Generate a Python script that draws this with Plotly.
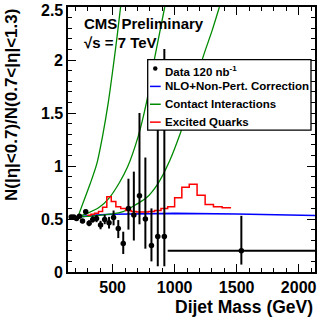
import numpy as np
import plotly.graph_objects as go

# ---------------- data ----------------
bin_edges = [156, 176, 197, 220, 244, 270, 296, 325, 354, 386, 419, 453, 489,
             526, 565, 606, 649, 693, 740, 788, 838, 890, 944, 2132]
ratio = [0.52, 0.52, 0.505, 0.527, 0.48, 0.568, 0.46, 0.496, 0.505, 0.443,
         0.496, 0.465, 0.515, 0.41, 0.27, 0.60, 0.537, 0.72, 0.50, 0.25,
         0.334, 0.334, 0.20]
err_up = [0.01, 0.012, 0.015, 0.017, 0.02, 0.025, 0.028, 0.03, 0.035, 0.04,
          0.045, 0.055, 0.065, 0.08, 0.11, 0.28, 0.41, 0.78, 0.58, 0.35,
          1.67, 1.77, 0.33]
err_down = [0.01, 0.012, 0.015, 0.017, 0.02, 0.025, 0.028, 0.03, 0.035, 0.04,
            0.045, 0.055, 0.075, 0.09, 0.10, 0.20, 0.24, 0.27, 0.28, 0.15,
            0.28, 0.28, 0.13]

nlo_mass = [220, 300, 400, 500, 700, 1000, 1500, 2132]
nlo_ratio = [0.52, 0.53, 0.54, 0.545, 0.55, 0.553, 0.547, 0.533]

ci1_mass = [220, 264, 318, 372, 420, 465, 505, 540, 564]
ci1_ratio = [0.52, 0.66, 0.83, 1.02, 1.29, 1.60, 1.94, 2.26, 2.5]
ci2_mass = [220, 300, 392, 473, 553, 620, 706, 773, 839, 920]
ci2_ratio = [0.52, 0.555, 0.61, 0.70, 0.84, 0.99, 1.28, 1.60, 2.02, 2.5]
ci3_mass = [220, 350, 478, 585, 693, 772, 863, 960, 1043, 1140, 1227, 1300, 1361]
ci3_ratio = [0.52, 0.53, 0.545, 0.57, 0.64, 0.70, 0.83, 1.05, 1.30, 1.64, 2.02, 2.27, 2.5]

qstar_edges = [296, 325, 354, 386, 419, 453, 489, 526, 565, 606, 649, 693, 740,
               788, 838, 890, 944, 1000, 1058, 1118, 1181, 1246, 1313, 1383, 1455]
qstar_ratio = [0.535, 0.545, 0.555, 0.57, 0.61, 0.71, 0.665, 0.615, 0.60, 0.58,
               0.57, 0.565, 0.565, 0.57, 0.58, 0.60, 0.615, 0.70, 0.80, 0.827,
               0.724, 0.637, 0.615, 0.606]

x_ticks = [500, 1000, 1500, 2000]
y_ticks = [0, 0.5, 1, 1.5, 2, 2.5]
legend_labels = ["Data 120 nb<sup>-1</sup>", "NLO+Non-Pert. Correction",
                 "Contact Interactions", "Excited Quarks"]

# ---------------- derived ----------------
edges = np.array(bin_edges, dtype=float)
centers = 0.5 * (edges[:-1] + edges[1:])
half = 0.5 * (edges[1:] - edges[:-1])
# only the wide last bin shows a visible horizontal bar
xerr = [h if i == len(half) - 1 else 0 for i, h in enumerate(half)]

FONT = "Liberation Sans, Arial, Helvetica, sans-serif"
GREEN = "#008a00"

def b(s):
    return "<b>" + s + "</b>"

fig = go.Figure()

fig.add_trace(go.Scatter(x=nlo_mass, y=nlo_ratio, mode="lines",
                         line=dict(color="#0000ff", width=1.6), showlegend=False))
for mx, ry in [(ci1_mass, ci1_ratio), (ci2_mass, ci2_ratio), (ci3_mass, ci3_ratio)]:
    fig.add_trace(go.Scatter(x=mx, y=ry, mode="lines", line_shape="spline",
                             line=dict(color=GREEN, width=1.3, smoothing=0.8),
                             showlegend=False))
fig.add_trace(go.Scatter(x=qstar_edges, y=qstar_ratio + [qstar_ratio[-1]],
                         mode="lines", line_shape="hv",
                         line=dict(color="#ff0000", width=1.5), showlegend=False))
fig.add_trace(go.Scatter(
    x=centers, y=ratio, mode="markers",
    marker=dict(color="black", size=5.5),
    error_y=dict(type="data", array=err_up, arrayminus=err_down, symmetric=False,
                 color="black", thickness=2, width=0),
    error_x=dict(type="data", array=xerr, arrayminus=xerr, symmetric=False,
                 color="black", thickness=2, width=0),
    showlegend=False, cliponaxis=True))

# ---------------- layout ----------------
L, R, T, B = 68, 9, 5, 55
W, H = 324, 327
pw, ph = W - L - R, H - T - B

def px(xp):
    return (xp - L) / pw

def py(yp):
    return (H - B - yp) / ph

axis_common = dict(showline=True, linecolor="black", linewidth=2, mirror="allticks",
                   ticks="inside", ticklen=8, tickwidth=1.3, tickcolor="black",
                   showgrid=False, zeroline=False,
                   tickfont=dict(family=FONT, size=16, color="black"))

fig.update_layout(
    width=W, height=H, margin=dict(l=L, r=R, t=T, b=B),
    paper_bgcolor="white", plot_bgcolor="white",
    xaxis=dict(range=[140, 2132], tickvals=x_ticks,
               ticktext=[b(str(v)) for v in x_ticks],
               minor=dict(dtick=100, tick0=0, ticks="inside", ticklen=4,
                          tickcolor="black", tickwidth=1.1, showgrid=False),
               **axis_common),
    yaxis=dict(range=[0, 2.5], tickvals=y_ticks, showticklabels=False,
               minor=dict(dtick=0.1, tick0=0, ticks="inside", ticklen=4,
                          tickcolor="black", tickwidth=1.1, showgrid=False),
               **axis_common),
    showlegend=False,
)

annotations = []
shapes = []

# y tick labels (drawn as annotations so that the top one stays visible)
for v in y_ticks:
    annotations.append(dict(text=b("%g" % v), xref="paper", yref="y",
                            x=px(65), y=v, xanchor="right", yanchor="middle",
                            yshift=(-3 if v == y_ticks[-1] else 0),
                            showarrow=False,
                            font=dict(family=FONT, size=16, color="black")))

# axis titles
annotations.append(dict(text=b("Dijet Mass (GeV)"), xref="paper", yref="paper",
                        x=1.0, y=py(307), xanchor="right", yanchor="middle",
                        showarrow=False,
                        font=dict(family=FONT, size=17.5, color="black")))
annotations.append(dict(text=b("N(|η|<0.7)/N(0.7<|η|<1.3)"), xref="paper", yref="paper",
                        x=px(11), y=1.0, xanchor="center", yanchor="top",
                        textangle=-90, showarrow=False,
                        font=dict(family=FONT, size=17, color="black")))

# CMS labels
annotations.append(dict(text=b("CMS Preliminary"), xref="paper", yref="paper",
                        x=px(82), y=py(22), xanchor="left", yanchor="middle",
                        showarrow=False,
                        font=dict(family=FONT, size=15, color="black")))
annotations.append(dict(text=b("√s = 7 TeV"), xref="paper", yref="paper",
                        x=px(82), y=py(41), xanchor="left", yanchor="middle",
                        showarrow=False,
                        font=dict(family=FONT, size=15, color="black")))

# legend box
shapes.append(dict(type="rect", xref="paper", yref="paper",
                   x0=px(147.7), x1=px(311), y0=py(129), y1=py(58),
                   fillcolor="white", line=dict(color="black", width=1.3),
                   layer="above"))
rows = [67, 85, 103, 121]
colors = [None, "#0000ff", GREEN, "#ff0000"]
for lab, yy, col in zip(legend_labels, rows, colors):
    if col is None:
        shapes.append(dict(type="circle", xref="paper", yref="paper",
                           x0=px(153), x1=px(157.5), y0=py(yy + 2.25), y1=py(yy - 2.25),
                           fillcolor="black", line=dict(color="black", width=0),
                           layer="above"))
    else:
        shapes.append(dict(type="line", xref="paper", yref="paper",
                           x0=px(150), x1=px(160.7), y0=py(yy), y1=py(yy),
                           line=dict(color=col, width=1.5), layer="above"))
    annotations.append(dict(text=b(lab), xref="paper", yref="paper",
                            x=px(163), y=py(yy + (2 if col is None else 0)),
                            xanchor="left", yanchor="middle", showarrow=False,
                            font=dict(family=FONT, size=11.5, color="black")))

fig.update_layout(annotations=annotations, shapes=shapes)
fig.write_html("out.html")
